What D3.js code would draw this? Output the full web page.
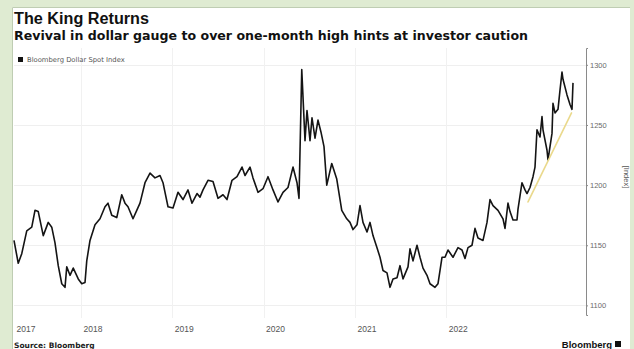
<!DOCTYPE html>
<html>
<head>
<meta charset="utf-8">
<script src="https://cdn.jsdelivr.net/npm/d3@7"></script>
<style>
  html, body { margin: 0; padding: 0; background: #dfebd2; }
  svg { display: block; }
</style>
</head>
<body>
<svg id="chart" width="634" height="349"></svg>
<script>
// Bloomberg Dollar Spot Index, closing levels
const dates = [
  "2017-04-08","2017-04-25","2017-05-09","2017-05-29","2017-06-18","2017-07-01","2017-07-14","2017-08-03",
  "2017-08-23","2017-09-06","2017-09-19","2017-10-02","2017-10-16","2017-10-29","2017-11-05","2017-11-18",
  "2017-12-01","2017-12-21","2018-01-04","2018-01-17","2018-01-24","2018-02-06","2018-02-26","2018-03-18",
  "2018-04-07","2018-04-19","2018-05-04","2018-05-24","2018-06-13","2018-06-26","2018-07-08","2018-07-28",
  "2018-08-12","2018-08-25","2018-09-14","2018-10-04","2018-10-24","2018-11-13","2018-11-25","2018-12-15",
  "2019-01-04","2019-01-24","2019-02-13","2019-03-05","2019-03-21","2019-04-10","2019-04-22","2019-05-04",
  "2019-05-24","2019-06-13","2019-07-03","2019-07-23","2019-08-08","2019-08-28","2019-09-17","2019-10-07",
  "2019-10-19","2019-11-08","2019-11-20","2019-12-10","2019-12-30","2020-01-19","2020-02-08","2020-02-28",
  "2020-03-19","2020-04-08","2020-04-28","2020-05-14","2020-05-22","2020-06-02","2020-06-15","2020-06-23",
  "2020-07-05","2020-07-13","2020-07-25","2020-08-06","2020-08-18","2020-08-30","2020-09-10","2020-09-30",
  "2020-10-20","2020-11-09","2020-11-29","2020-12-12","2020-12-24","2021-01-09","2021-01-21","2021-02-02",
  "2021-02-18","2021-03-02","2021-03-14","2021-03-30","2021-04-11","2021-04-23","2021-05-09","2021-05-21",
  "2021-06-02","2021-06-18","2021-06-30","2021-07-12","2021-08-01","2021-08-09","2021-08-21","2021-09-06",
  "2021-09-18","2021-09-30","2021-10-16","2021-10-28","2021-11-17","2021-11-29","2021-12-15","2021-12-27",
  "2022-01-08","2022-01-28","2022-02-17","2022-03-05","2022-03-17","2022-03-29","2022-04-14","2022-04-26",
  "2022-05-08","2022-05-28","2022-06-13","2022-06-25","2022-07-07","2022-07-27","2022-08-16","2022-08-24",
  "2022-09-05","2022-09-13","2022-09-25","2022-10-11","2022-10-15","2022-10-31","2022-11-12","2022-11-20",
  "2022-12-02","2022-12-14","2022-12-22","2022-12-30","2023-01-11","2023-01-19","2023-01-23","2023-02-08",
  "2023-02-12","2023-02-28","2023-03-04","2023-03-12","2023-03-24","2023-04-01","2023-04-09","2023-04-13",
  "2023-04-29","2023-05-11","2023-05-19","2023-05-23"
];
const values = [
  1154,1135,1143,1162,1165,1179,1178,1158,
  1169,1165,1152,1133,1118,1115,1132,1125,
  1131,1122,1118,1119,1137,1154,1167,1172,
  1182,1185,1175,1173,1192,1185,1182,1172,
  1179,1185,1202,1210,1206,1208,1202,1182,
  1181,1194,1188,1196,1185,1193,1190,1196,
  1204,1203,1189,1192,1188,1204,1207,1215,
  1208,1215,1206,1194,1197,1207,1196,1186,
  1194,1198,1215,1202,1189,1296,1237,1262,
  1237,1256,1239,1254,1244,1232,1200,1218,
  1205,1179,1172,1169,1163,1167,1183,1169,
  1161,1169,1158,1148,1140,1129,1127,1115,
  1122,1123,1133,1122,1132,1147,1137,1150,
  1140,1131,1125,1118,1115,1118,1140,1140,
  1146,1140,1148,1146,1139,1148,1150,1164,
  1156,1154,1169,1188,1183,1179,1172,1164,
  1185,1178,1171,1171,1180,1202,1196,1193,
  1198,1207,1215,1246,1240,1257,1246,1229,
  1221,1243,1268,1260,1263,1279,1294,1288,
  1275,1267,1263,1285
];

// Rising support line under the latest rally
const trendDates = ["2022-11-24", "2023-05-17"];
const trendValues = [1186, 1260];

// Axis ticks
const yTicks = [1100, 1150, 1200, 1250, 1300];
const xTickDates = ["2017-04-08", "2018-01-01", "2019-01-01", "2020-01-01", "2021-01-01", "2022-01-01"];

const titleText = "The King Returns";
const subtitleText = "Revival in dollar gauge to over one-month high hints at investor caution";
const legendText = "Bloomberg Dollar Spot Index";
const unitText = "[Index]";
const sourceText = "Source: Bloomberg";
const brandText = "Bloomberg";

const parse = d3.utcParse("%Y-%m-%d");
const series = dates.map((d, i) => ({ date: parse(d), value: values[i] }));
const trend = trendDates.map((d, i) => ({ date: parse(d), value: trendValues[i] }));

const svg = d3.select("#chart");

// White card on the green page
svg.append("rect").attr("x", 12).attr("y", 7).attr("width", 618).attr("height", 360)
  .attr("fill", "#ffffff");
svg.append("path").attr("d", "M12.5,349 V7.5 H630")
  .attr("fill", "none").attr("stroke", "#bfcdb3").attr("stroke-width", 1);

const x = d3.scaleUtc()
  .domain([parse(dates[0]), parse(dates[dates.length - 1])])
  .range([14, 573]);
const y = d3.scaleLinear().domain([1092, 1314]).range([315, 48]);

// Grid
const grid = svg.append("g");
grid.selectAll("line.h").data(yTicks).join("line")
  .attr("x1", 14).attr("x2", 586)
  .attr("y1", d => Math.round(y(d)) + 0.5).attr("y2", d => Math.round(y(d)) + 0.5)
  .attr("stroke", "#efefef").attr("stroke-width", 1);
grid.selectAll("line.v").data(xTickDates.slice(1)).join("line")
  .attr("x1", d => Math.round(x(parse(d))) + 0.5).attr("x2", d => Math.round(x(parse(d))) + 0.5)
  .attr("y1", 48).attr("y2", 318)
  .attr("stroke", "#f1f1f1").attr("stroke-width", 1);

// Right-hand value axis
const yAxis = svg.append("g").attr("transform", "translate(586,0)")
  .call(d3.axisRight(y).tickValues(yTicks).tickSize(2).tickPadding(2).tickFormat(d3.format("d")));
yAxis.select(".domain").attr("stroke", "#8a8a8a");
yAxis.selectAll(".tick line").attr("stroke", "#8a8a8a");
yAxis.selectAll(".tick text").attr("fill", "#6a6a6a")
  .style("font-family", "'Liberation Sans', Arial, sans-serif").style("font-size", "7.5px");

svg.append("text").text(unitText)
  .attr("transform", "translate(624,177) rotate(90)")
  .attr("text-anchor", "middle")
  .attr("fill", "#555").style("font-family", "'Liberation Sans', Arial, sans-serif").style("font-size", "7.5px");

// Year axis along the bottom
const xAxis = svg.append("g").attr("transform", "translate(0,326)")
  .call(d3.axisBottom(x).tickValues(xTickDates.map(parse)).tickSize(0).tickPadding(0)
    .tickFormat(d3.utcFormat("%Y")));
xAxis.select(".domain").remove();
xAxis.selectAll(".tick text")
  .attr("text-anchor", "start").attr("dx", 2).attr("dy", "0.71em")
  .attr("fill", "#555")
  .style("font-family", "'Liberation Sans', Arial, sans-serif").style("font-size", "8.5px");

// Series line
const line = d3.line().x(d => x(d.date)).y(d => y(d.value));
svg.append("path").datum(series)
  .attr("d", line)
  .attr("fill", "none").attr("stroke", "#141414").attr("stroke-width", 1.6)
  .attr("stroke-linejoin", "round");

svg.append("path").datum(trend)
  .attr("d", line)
  .attr("fill", "none").attr("stroke", "#ead98c").attr("stroke-width", 1.6)
  .attr("stroke-linecap", "round");

// Titles
svg.append("text").text(titleText)
  .attr("x", 14).attr("y", 24)
  .attr("textLength", 135).attr("lengthAdjust", "spacingAndGlyphs")
  .attr("fill", "#111")
  .style("font-family", "'Liberation Sans', Arial, sans-serif").style("font-weight", "bold").style("font-size", "16px");
svg.append("text").text(subtitleText)
  .attr("x", 14).attr("y", 40)
  .attr("textLength", 514).attr("lengthAdjust", "spacingAndGlyphs")
  .attr("fill", "#111")
  .style("font-family", "'DejaVu Sans', Verdana, sans-serif").style("font-weight", "bold").style("font-size", "11.5px");

// Legend
svg.append("rect").attr("x", 18).attr("y", 57).attr("width", 5).attr("height", 5).attr("fill", "#111");
svg.append("text").text(legendText)
  .attr("x", 27).attr("y", 62)
  .attr("fill", "#555")
  .style("font-family", "'DejaVu Sans', Verdana, sans-serif").style("font-size", "6.8px");

// Footer
svg.append("text").text(sourceText)
  .attr("x", 14).attr("y", 348)
  .attr("fill", "#222")
  .style("font-family", "'DejaVu Sans', Verdana, sans-serif").style("font-weight", "bold").style("font-size", "7.5px");
svg.append("text").text(brandText)
  .attr("x", 612).attr("y", 348).attr("text-anchor", "end")
  .attr("fill", "#111")
  .style("font-family", "'Liberation Sans', Arial, sans-serif").style("font-weight", "bold").style("font-size", "9.5px");
svg.append("rect").attr("x", 615).attr("y", 341).attr("width", 6).attr("height", 6).attr("fill", "#111");
</script>
</body>
</html>
